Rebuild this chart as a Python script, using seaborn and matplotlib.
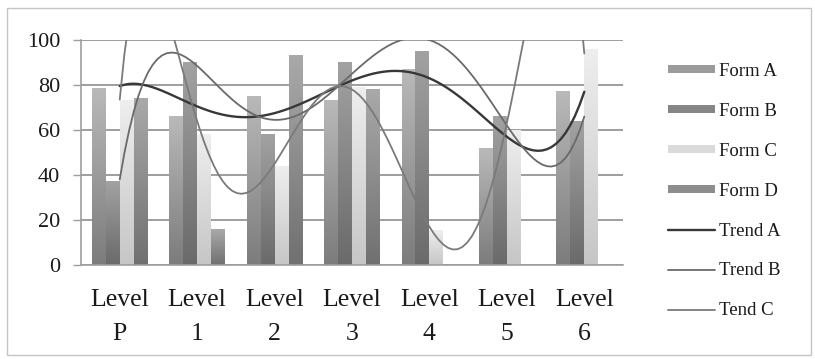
import numpy as np
import pandas as pd
import seaborn as sns
import matplotlib
matplotlib.use("Agg")
import matplotlib.pyplot as plt
from matplotlib.colors import LinearSegmentedColormap, to_rgb
from matplotlib.patches import Rectangle
from matplotlib.lines import Line2D

# ---- data -------------------------------------------------------------
levels = ["Level\nP", "Level\n1", "Level\n2", "Level\n3", "Level\n4", "Level\n5", "Level\n6"]
forms = ["Form A", "Form B", "Form C", "Form D"]
form_a = [78.5, 66, 75, 73, 87, 52, 77]
form_b = [37, 90, 58, 90, 95, 66, 64]
form_c = [73, 58, 44, 79, 15.5, 60, 96]
form_d = [74, 16, 93, 78, np.nan, np.nan, np.nan]

trends = ["Trend A", "Trend B", "Tend C"]
trend_a = [79.5, 70.5, 67.5, 82, 83, 57, 77]
trend_b = [38, 88.5, 64.5, 85, 100, 62, 66]
trend_c = [73.5, 64, 45, 78, 17, 63, 94]

y_ticks = [0, 20, 40, 60, 80, 100]

# ---- styling ----------------------------------------------------------
sns.set_theme(style="white")
plt.rcParams["font.family"] = ["Liberation Serif", "DejaVu Serif"]

form_grad = {
    "Form A": ("#7c7c7c", "#b9b9b9"),
    "Form B": ("#6a6a6a", "#a2a2a2"),
    "Form C": ("#c6c6c6", "#eeeeee"),
    "Form D": ("#707070", "#a9a9a9"),
}
trend_style = {
    "Trend A": dict(color="#383838", lw=1.7),
    "Trend B": dict(color="#6a6a6a", lw=1.3),
    "Tend C": dict(color="#7a7a7a", lw=1.3),
}
grid_col = "#9e9e9e"

W, H = 815, 359
fig = plt.figure(figsize=(W / 100, H / 100), dpi=100)
ax = fig.add_axes([81 / W, 1 - 265 / H, (623 - 81) / W, (265 - 40) / H])

# ---- bars -------------------------------------------------------------
df = pd.DataFrame({
    "level": np.repeat(levels, len(forms)),
    "form": forms * len(levels),
    "value": np.ravel(np.column_stack([form_a, form_b, form_c, form_d])),
}).dropna()

sns.barplot(data=df, x="level", y="value", hue="form", order=levels,
            hue_order=forms, width=0.72, errorbar=None, legend=False,
            saturation=1, ax=ax, zorder=2)

# vertical gradient fill for every bar
grad = np.linspace(0, 1, 128).reshape(-1, 1)
for form, cont in zip(forms, ax.containers):
    cmap = LinearSegmentedColormap.from_list(form, form_grad[form])
    for bar in cont:
        x0, y0 = bar.get_x(), bar.get_y()
        w, h = bar.get_width(), bar.get_height()
        if not np.isfinite(h) or h <= 0:
            continue
        ax.imshow(grad, cmap=cmap, origin="lower", aspect="auto",
                  extent=[x0, x0 + w, y0, y0 + h], zorder=2.1,
                  interpolation="bilinear")
        bar.set_facecolor("none")
        bar.set_edgecolor("none")

# ---- polynomial trend lines --------------------------------------------
xpos = np.arange(len(levels))
for name, vals in zip(trends, [trend_a, trend_b, trend_c]):
    sns.regplot(x=xpos, y=np.array(vals, dtype=float), order=6, ci=None,
                scatter=False, truncate=True, ax=ax,
                line_kws=dict(solid_capstyle="round", zorder=3, **trend_style[name]))

# ---- axes -------------------------------------------------------------
ax.set_xlim(-0.5, len(levels) - 0.5)
ax.set_ylim(0, 100)
ax.set_xlabel("")
ax.set_ylabel("")
ax.set_yticks(y_ticks)
ax.set_yticklabels([str(v) for v in y_ticks])
ax.set_xticks(np.arange(-0.5, len(levels), 1))
ax.set_xticklabels([])
ax.set_xticks(xpos, minor=True)
ax.set_xticklabels(levels, minor=True, linespacing=1.72)
ax.tick_params(axis="x", which="major", length=6, width=1, color=grid_col,
               direction="out")
ax.tick_params(axis="x", which="minor", length=0, pad=17, labelsize=18.5,
               labelcolor="#1a1a1a")
ax.tick_params(axis="y", length=6, width=1, color=grid_col, direction="out",
               pad=9, labelsize=16, labelcolor="#1a1a1a", left=True)
ax.yaxis.grid(True, color=grid_col, lw=1.4)
ax.set_axisbelow(True)
for s in ["top", "right"]:
    ax.spines[s].set_visible(False)
for s in ["left", "bottom"]:
    ax.spines[s].set_color(grid_col)
    ax.spines[s].set_linewidth(1.2)

# ---- legend -----------------------------------------------------------
handles = []
for form in forms:
    lo, hi = form_grad[form]
    mid = tuple((np.array(to_rgb(lo)) + np.array(to_rgb(hi))) / 2)
    handles.append(Rectangle((0, 0), 1, 1, facecolor=mid, edgecolor="none"))
for name in trends:
    st = trend_style[name]
    handles.append(Line2D([], [], color=st["color"], lw=st["lw"]))
fig.legend(handles, forms + trends, loc="upper left",
           bbox_to_anchor=(668 / W, 1 - 63 / H), frameon=False,
           fontsize=13.5, handlelength=2.5, handleheight=0.3,
           handletextpad=0.2, labelspacing=1.22, borderpad=0,
           borderaxespad=0, labelcolor="#1a1a1a")

# ---- outer frame ------------------------------------------------------
fig.patches.append(Rectangle((7 / W, 4 / H), (811 - 7) / W, (355 - 8) / H,
                             transform=fig.transFigure, fill=False,
                             edgecolor="#c4c4c4", lw=1.0))

fig.savefig("out.png", dpi=100)
